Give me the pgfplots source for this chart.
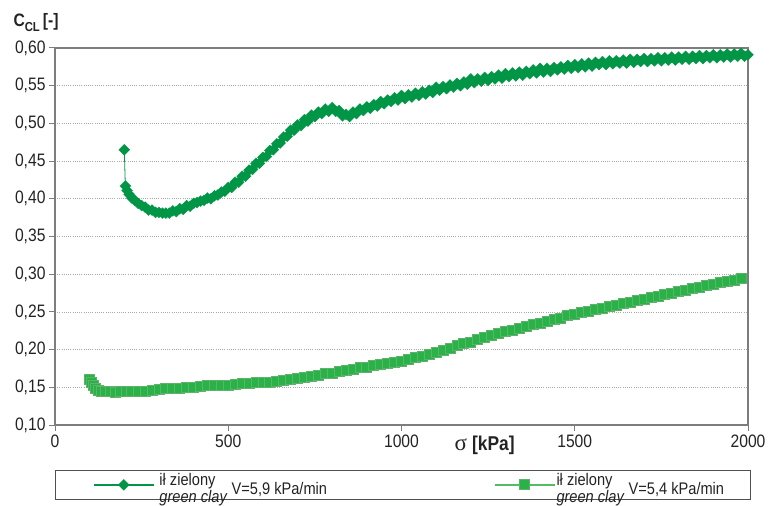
\documentclass[border=0pt]{standalone}
\usepackage{pgfplots}
\pgfplotsset{compat=1.18}
\usepackage{fontspec}
\setmainfont{Liberation Sans}[FakeStretch=0.87]
\newfontfamily\greekfont{Liberation Serif}
\definecolor{cA}{RGB}{0,150,70}
\definecolor{cBfill}{RGB}{40,178,72}
\definecolor{cBdraw}{RGB}{95,178,105}
\definecolor{cBline}{RGB}{80,190,100}
\definecolor{axgray}{RGB}{125,125,125}
\definecolor{leggray}{RGB}{80,80,80}
\definecolor{gridgray}{RGB}{170,170,170}
\definecolor{txt}{RGB}{35,35,35}
\begin{document}
\begin{tikzpicture}
\begin{axis}[
  name=ax,
  scale only axis, width=693bp, height=377bp,
  xmin=0, xmax=2000, ymin=0.1, ymax=0.6,
  clip=false,
  xtick={0,500,1000,1500,2000},
  ytick={0.10,0.15,0.20,0.25,0.30,0.35,0.40,0.45,0.50,0.55,0.60},
  xtick pos=bottom, ytick pos=left,
  tick align=outside, major tick length=6bp,
  axis line style={axgray, line width=1.3bp},
  tick style={axgray, line width=1bp},
  ymajorgrids,
  grid style={gridgray, line width=0.8bp, dash pattern=on 1bp off 1.2bp},
  /pgf/number format/assume math mode=true,
  ticklabel style={font=\fontsize{18bp}{20bp}\selectfont, text=txt},
  y tick label style={/pgf/number format/.cd, use comma, fixed, fixed zerofill, precision=2},
  x tick label style={/pgf/number format/1000 sep={}},
  legend columns=2,
  legend cell align=left,
  legend image code/.code={%
    \path (-38bp,0bp);
    \draw[#1, line width=1.3bp, mark repeat=2, mark phase=2] plot coordinates {(0bp,0bp) (30bp,0bp) (60bp,0bp)};},
  legend style={at={(0,0)}, anchor=north west, yshift=-45bp,
    draw=leggray, line width=0.8bp,
    inner xsep=0pt, inner ysep=3bp, column sep=0pt, row sep=0pt,
    font=\fontsize{16.8bp}{16.5bp}\selectfont, text=txt,
    nodes={inner sep=0pt}},
]
\addplot[color=cA, line width=0.8bp, mark=square*, mark size=3.9bp,
  mark options={rotate=45, fill=cA, draw=cA, line width=0.2bp}]
coordinates {
(200,0.465)(203,0.417)(208,0.411)(214,0.406)(222,0.401)(230,0.398)(240,0.394)(250,0.391)
(260,0.389)(270,0.385)(280,0.385)(290,0.382)(300,0.382)(310,0.381)(320,0.381)(330,0.381)
(340,0.384)(350,0.383)(360,0.387)(370,0.386)(380,0.391)(390,0.390)(400,0.394)(410,0.395)
(420,0.397)(430,0.398)(440,0.401)(450,0.400)(460,0.404)(470,0.405)(480,0.409)(490,0.410)
(500,0.415)(510,0.415)(520,0.422)(530,0.422)(540,0.430)(550,0.430)(560,0.438)(570,0.439)
(580,0.447)(590,0.447)(600,0.455)(610,0.456)(620,0.464)(630,0.465)(640,0.473)(650,0.474)
(660,0.482)(670,0.483)(680,0.491)(690,0.491)(700,0.498)(710,0.497)(720,0.505)(730,0.503)
(740,0.511)(750,0.509)(760,0.515)(770,0.513)(780,0.519)(790,0.516)(800,0.521)(810,0.516)
(820,0.517)(830,0.510)(840,0.512)(850,0.509)(860,0.515)(870,0.513)(880,0.519)(890,0.517)
(900,0.522)(910,0.520)(920,0.525)(930,0.523)(940,0.529)(950,0.526)(960,0.531)(970,0.529)
(980,0.534)(990,0.531)
(1000,0.537)(1010,0.533)(1020,0.538)(1030,0.535)(1040,0.540)(1050,0.537)(1060,0.542)(1070,0.539)
(1080,0.544)(1090,0.541)(1100,0.548)(1110,0.544)(1120,0.549)(1130,0.546)(1140,0.551)(1150,0.548)
(1160,0.553)(1170,0.550)(1180,0.555)(1190,0.552)(1200,0.559)(1210,0.554)(1220,0.559)(1230,0.556)
(1240,0.561)(1250,0.557)(1260,0.562)(1270,0.559)(1280,0.564)(1290,0.560)(1300,0.566)(1310,0.562)
(1320,0.567)(1330,0.563)(1340,0.568)(1350,0.564)(1360,0.569)(1370,0.566)(1380,0.571)(1390,0.567)
(1400,0.573)(1410,0.568)(1420,0.573)(1430,0.569)(1440,0.574)(1450,0.571)(1460,0.575)(1470,0.572)
(1480,0.577)(1490,0.573)(1500,0.578)(1510,0.574)(1520,0.579)(1530,0.575)(1540,0.580)(1550,0.576)
(1560,0.581)(1570,0.578)(1580,0.582)(1590,0.578)(1600,0.583)(1610,0.579)(1620,0.583)(1630,0.580)
(1640,0.584)(1650,0.580)(1660,0.585)(1670,0.581)(1680,0.585)(1690,0.582)(1700,0.586)(1710,0.582)
(1720,0.586)(1730,0.583)(1740,0.587)(1750,0.583)(1760,0.587)(1770,0.584)(1780,0.588)(1790,0.584)
(1800,0.588)(1810,0.585)(1820,0.589)(1830,0.585)(1840,0.589)(1850,0.586)(1860,0.590)(1870,0.586)
(1880,0.590)(1890,0.587)(1900,0.591)(1910,0.587)(1920,0.591)(1930,0.588)(1940,0.592)(1950,0.588)
(1960,0.592)(1970,0.589)(1980,0.593)(1990,0.589)(2000,0.591)
};
\addlegendentry{\makebox[302bp][l]{\hspace{5bp}\begin{tabular}{@{}l@{}}ił zielony\\\textit{green clay}\end{tabular}\hspace{4bp}V=5,9 kPa/min}}
\addplot[color=cBline, line width=0.8bp, mark=square*, mark size=5bp,
  mark options={fill=cBfill, draw=cBdraw, line width=0.8bp}]
coordinates {
(100,0.160)(105,0.157)(110,0.152)(118,0.148)(125,0.146)(135,0.145)(145,0.144)(160,0.144)
(175,0.143)(190,0.144)(205,0.144)(220,0.144)(240,0.145)(260,0.145)(280,0.146)(300,0.147)
(320,0.148)(340,0.149)(360,0.149)(380,0.150)(400,0.150)(420,0.151)(440,0.152)(460,0.152)
(480,0.153)(500,0.153)(520,0.154)(540,0.155)(560,0.155)(580,0.156)(600,0.156)(620,0.157)
(640,0.158)(660,0.159)(680,0.160)(700,0.162)(720,0.163)(740,0.165)(760,0.166)(780,0.168)
(800,0.169)(820,0.171)(840,0.173)(860,0.174)(880,0.176)(900,0.177)(920,0.179)(940,0.180)
(960,0.182)(980,0.183)(1000,0.185)(1020,0.187)(1040,0.189)(1060,0.191)(1080,0.193)(1100,0.196)
(1120,0.199)(1140,0.202)(1160,0.205)(1180,0.208)(1200,0.210)(1220,0.213)(1240,0.216)(1260,0.219)
(1280,0.221)(1300,0.224)(1320,0.226)(1340,0.228)(1360,0.231)(1380,0.233)(1400,0.235)(1420,0.238)
(1440,0.240)(1460,0.242)(1480,0.245)(1500,0.247)(1520,0.249)(1540,0.251)(1560,0.253)(1580,0.255)
(1600,0.257)(1620,0.259)(1640,0.261)(1660,0.263)(1680,0.265)(1700,0.267)(1720,0.269)(1740,0.271)
(1760,0.273)(1780,0.275)(1800,0.277)(1820,0.279)(1840,0.281)(1860,0.283)(1880,0.285)(1900,0.287)
(1920,0.289)(1940,0.290)(1960,0.292)(1980,0.294)
};
\addlegendentry{\makebox[195bp][l]{\hspace{1bp}\begin{tabular}{@{}l@{}}ił zielony\\\textit{green clay}\end{tabular}\hspace{4bp}V=5,4 kPa/min}}
\node[anchor=base west, text=txt, font=\bfseries\fontsize{18bp}{20bp}\selectfont]
  at (rel axis cs:0,1) [xshift=-45bp, yshift=21bp]
  {C\raisebox{-5bp}{\fontsize{13bp}{13bp}\selectfont CL}\hspace{3bp}[-]};
\node[anchor=base, text=txt, font=\fontsize{20bp}{22bp}\selectfont]
  at (axis cs:1240,0.1) [yshift=-25bp]
  {{\greekfont\fontsize{23bp}{24bp}\selectfont σ}\hspace{5bp}\textbf{[kPa]}};
\end{axis}
\pgfresetboundingbox
\path[use as bounding box] ([shift={(-55bp,-81bp)}]ax.south west) rectangle ([shift={(30bp,48bp)}]ax.north east);
\end{tikzpicture}
\end{document}
